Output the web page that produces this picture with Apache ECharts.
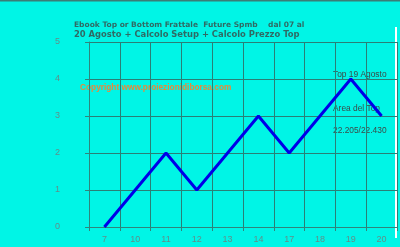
<!DOCTYPE html>
<html><head><meta charset="utf-8">
<script src="https://cdn.jsdelivr.net/npm/echarts@6/dist/echarts.min.js"></script>
<style>html,body{margin:0;padding:0;background:#00f5e6;}#c{width:400px;height:247px;}</style>
</head><body><div id="c"></div>
<script>
const categories = ['7','10','11','12','13','14','17','18','19','20'];
const values = [0,1,2,1,2,3,2,3,4,3];
const yTicks = [0,1,2,3,4,5];
const titleLines = ['Ebook Top or Bottom Frattale  Future Spmb    dal 07 al', '20 Agosto + Calcolo Setup + Calcolo Prezzo Top'];
const copyright = 'Copyright www.proiezionidiborsa.com';
const notes = ['Top 19 Agosto', 'Area del Top', '22.205/22.430'];

const chart = echarts.init(document.getElementById('c'), null, {renderer:'canvas'});
chart.setOption({
  backgroundColor: '#00f5e6',
  animation: false,
  grid: {left: 89, right: 3, top: 42, bottom: 20},
  xAxis: {
    type: 'category', data: categories, boundaryGap: true,
    axisLine: {lineStyle: {color: '#2f857b', width: 1}},
    axisTick: {show: true, lineStyle: {color: '#2f857b'}, length: 4},
    axisLabel: {color: '#5f8f8a', fontSize: 9, fontFamily: 'Liberation Sans', margin: 8},
    splitLine: {show: true, lineStyle: {color: '#2a7f76', width: 1}}
  },
  yAxis: {
    type: 'value', min: yTicks[0], max: yTicks[yTicks.length-1], interval: 1,
    axisLine: {show: true, lineStyle: {color: '#2f857b'}},
    axisTick: {show: true, length: 4, lineStyle: {color: '#2f857b'}},
    axisLabel: {color: '#5f8f8a', fontSize: 9, fontFamily: 'Liberation Sans', margin: 29},
    splitLine: {show: true, lineStyle: {color: '#2a7f76', width: 1}}
  },
  series: [{
    type: 'line', data: values, symbol: 'none',
    lineStyle: {color: '#0000e8', width: 3}
  }],
  graphic: [
    {type: 'rect', shape: {x: 0, y: 0, width: 400, height: 1.5}, style: {fill: '#3a7d76'}},
    {type: 'rect', shape: {x: 395, y: 27, width: 2, height: 211}, style: {fill: '#ffffff'}},
    {type: 'text', left: 74, top: 21, style: {text: titleLines[0], fill: '#2f6a64', font: 'bold 7.5px "DejaVu Sans"'}},
    {type: 'text', left: 74, top: 31, style: {text: titleLines[1], fill: '#2f6a64', font: 'bold 8.4px "DejaVu Sans"'}},
    {type: 'text', left: 80, top: 84, style: {text: copyright, fill: '#e8883a', font: 'bold 8.3px "Liberation Sans"'}},
    {type: 'text', left: 333, top: 71, style: {text: notes[0], fill: '#3a4a48', font: '8.4px "Liberation Sans"'}},
    {type: 'text', left: 333, top: 105, style: {text: notes[1], fill: '#3a4a48', font: '8.4px "Liberation Sans"'}},
    {type: 'text', left: 333, top: 127, style: {text: notes[2], fill: '#3a4a48', font: '8.4px "Liberation Sans"'}}
  ]
});
</script></body></html>
